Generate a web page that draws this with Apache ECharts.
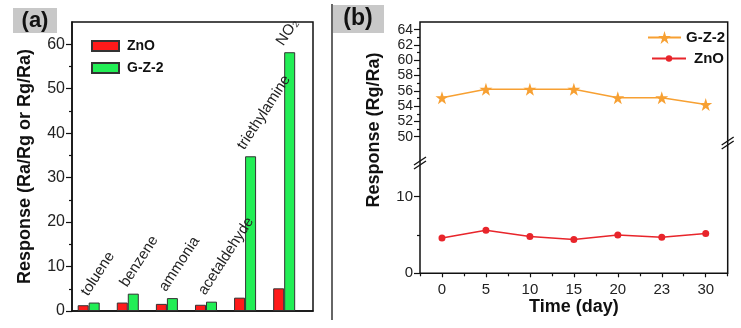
<!DOCTYPE html>
<html>
<head>
<meta charset="utf-8">
<script src="https://cdn.jsdelivr.net/npm/echarts@6/dist/echarts.min.js"></script>
<style>
  html, body { margin: 0; padding: 0; background: #fff; }
  #chart { width: 741px; height: 328px; }
</style>
</head>
<body>
<div id="chart"></div>
<script>
// (a) 各气体响应
var gases = ['toluene', 'benzene', 'ammonia', 'acetaldehyde', 'triethylamine', 'NO₂'];
var znoResp = [1.3, 1.9, 1.6, 1.4, 3.0, 5.1];
var gz2Resp = [1.9, 3.9, 2.9, 2.1, 34.8, 58.2];
var yTicksA = [0, 10, 20, 30, 40, 50, 60];
var yMinorA = [5, 15, 25, 35, 45, 55];

// (b) 稳定性
var days = ['0', '5', '10', '15', '20', '23', '30'];
var gz2Stab = [55.1, 56.2, 56.2, 56.2, 55.1, 55.1, 54.2];
var znoStab = [4.6, 5.6, 4.8, 4.4, 5.0, 4.7, 5.2];
var yTicksTop = [50, 52, 54, 56, 58, 60, 62, 64];
var yMinorTop = [51, 53, 55, 57, 59, 61, 63];
var yTicksLow = [0, 10];
var yMinorLow = [5];

var FONT = 'Liberation Sans, Arial, sans-serif';
var STAR = 'path://M50,0 L61.2,34.5 L97.6,34.5 L68.2,55.9 L79.4,90.5 L50,69.1 L20.6,90.5 L31.8,55.9 L2.4,34.5 L38.8,34.5 Z';

function tickAxis(grid, min, max, labels, ticks, len, fontSize, opts) {
  var ax = {
    type: 'value', gridIndex: grid, min: min, max: max, position: 'left',
    axisLine: { show: false, onZero: false },
    splitLine: { show: false },
    axisTick: { show: true, customValues: ticks, length: len, lineStyle: { color: '#111', width: 1.2 } },
    axisLabel: labels
      ? { show: true, customValues: labels, color: '#222', fontFamily: FONT, fontSize: fontSize, margin: 7 }
      : { show: false }
  };
  return Object.assign(ax, opts || {});
}

var chart = echarts.init(document.getElementById('chart'));
var option = {
  animation: false,
  backgroundColor: '#fff',
  grid: [
    { left: 72, top: 22, width: 241, height: 289, show: true, borderColor: '#111', borderWidth: 1.5, outerBoundsMode: 'none' },
    { left: 420, top: 22, width: 307.7, height: 130, outerBoundsMode: 'none' },
    { left: 420, top: 150.6, width: 307.7, height: 122.7, outerBoundsMode: 'none' },
    { left: 420, top: 22, width: 307.7, height: 251.3, show: true, borderColor: '#111', borderWidth: 1.5, outerBoundsMode: 'none' }
  ],
  xAxis: [
    { type: 'value', gridIndex: 0, min: -0.427, max: 5.737,
      axisLine: { show: true, onZero: false, lineStyle: { color: '#111', width: 1.5 } },
      axisTick: { show: false }, axisLabel: { show: false }, splitLine: { show: false } },
    { type: 'category', gridIndex: 1, data: days, show: false },
    { type: 'category', gridIndex: 2, data: days, position: 'bottom',
      axisLine: { show: false, onZero: false },
      axisTick: { show: true, alignWithLabel: true, length: 4, lineStyle: { color: '#111', width: 1.2 } },
      axisLabel: { color: '#222', fontFamily: FONT, fontSize: 15, margin: 9 },
      name: 'Time (day)', nameLocation: 'middle', nameGap: 23,
      nameTextStyle: { color: '#111', fontFamily: FONT, fontSize: 18, fontWeight: 'bold' } },
    { type: 'category', gridIndex: 2, data: days, position: 'bottom',
      axisLine: { show: false, onZero: false }, axisLabel: { show: false },
      axisTick: { show: true, alignWithLabel: false, length: 3, lineStyle: { color: '#111', width: 1.2 } } },
    { type: 'value', gridIndex: 3, show: false }
  ],
  yAxis: [
    tickAxis(0, 0, 65, yTicksA, yTicksA, 6, 16, {
      axisLine: { show: true, onZero: false, lineStyle: { color: '#111', width: 1.5 } },
      name: 'Response (Ra/Rg or Rg/Ra)', nameLocation: 'middle', nameGap: 38,
      nameTextStyle: { color: '#111', fontFamily: FONT, fontSize: 18, fontWeight: 'bold' }
    }),
    tickAxis(0, 0, 65, null, yMinorA, 3),
    tickAxis(1, 48, 65, yTicksTop, yTicksTop, 6, 14),
    tickAxis(1, 48, 65, null, yMinorTop, 3),
    tickAxis(2, 0, 16, yTicksLow, yTicksLow, 6, 15),
    tickAxis(2, 0, 16, null, yMinorLow, 3),
    { type: 'value', gridIndex: 3, show: false }
  ],
  legend: [
    { data: ['a:ZnO', 'a:G-Z-2'], orient: 'vertical', left: 86, top: 34,
      icon: 'rect', itemWidth: 27, itemHeight: 10, itemGap: 8, selectedMode: false,
      formatter: function (n) { return n.slice(2); },
      textStyle: { color: '#111', fontFamily: FONT, fontSize: 14, fontWeight: 'bold', padding: [0, 0, 0, 3] } },
    { data: ['b:G-Z-2'], orient: 'vertical', left: 642, top: 25,
      itemWidth: 33, itemHeight: 16, selectedMode: false,
      formatter: function (n) { return n.slice(2); },
      textStyle: { color: '#111', fontFamily: FONT, fontSize: 15, fontWeight: 'bold' } },
    { data: ['b:ZnO'], orient: 'vertical', left: 646, top: 46,
      itemWidth: 34, itemHeight: 8, selectedMode: false,
      formatter: function (n) { return n.slice(2); },
      textStyle: { color: '#111', fontFamily: FONT, fontSize: 15, fontWeight: 'bold', padding: [0, 0, 0, 3] } }
  ],
  graphic: [
    // 面板标签
    { type: 'rect', shape: { x: 13, y: 8, width: 44, height: 25 }, style: { fill: '#c8c8c8' } },
    { type: 'text', x: 35, y: 21, style: { text: '(a)', fill: '#111', font: 'bold 22px ' + FONT, align: 'center', verticalAlign: 'middle' } },
    { type: 'rect', shape: { x: 333, y: 5, width: 51, height: 28 }, style: { fill: '#c8c8c8' } },
    { type: 'text', x: 358, y: 19, style: { text: '(b)', fill: '#111', font: 'bold 23px ' + FONT, align: 'center', verticalAlign: 'middle' } },
    // 分隔线
    { type: 'line', shape: { x1: 332, y1: 4, x2: 332, y2: 320 }, style: { stroke: '#333', lineWidth: 1.5 } },
    // (b) y 轴标题
    { type: 'text', x: 374, y: 130, rotation: Math.PI / 2,
      style: { text: 'Response (Rg/Ra)', fill: '#111', font: 'bold 18px ' + FONT, align: 'center', verticalAlign: 'middle' } },
    // 断轴符号
    { type: 'line', shape: { x1: 414, y1: 165, x2: 426, y2: 157 }, style: { stroke: '#111', lineWidth: 1.3 } },
    { type: 'line', shape: { x1: 414, y1: 169, x2: 426, y2: 161 }, style: { stroke: '#111', lineWidth: 1.3 } },
    { type: 'line', shape: { x1: 721.7, y1: 145, x2: 733.7, y2: 137 }, style: { stroke: '#111', lineWidth: 1.3 } },
    { type: 'line', shape: { x1: 721.7, y1: 149, x2: 733.7, y2: 141 }, style: { stroke: '#111', lineWidth: 1.3 } }
  ],
  series: [
    { name: 'a:ZnO', type: 'bar', xAxisIndex: 0, yAxisIndex: 0,
      data: gases.map(function (g, i) { return [i, znoResp[i]]; }),
      barWidth: 11, barGap: '0%',
      itemStyle: { color: '#ff1a1a', borderColor: '#333', borderWidth: 1 } },
    { name: 'a:G-Z-2', type: 'bar', xAxisIndex: 0, yAxisIndex: 0,
      data: gases.map(function (g, i) { return [i, gz2Resp[i]]; }),
      barWidth: 11, barGap: '0%',
      itemStyle: { color: '#22ee55', borderColor: '#333', borderWidth: 1 },
      label: { show: true, position: [2, -4], rotate: 57, align: 'left', verticalAlign: 'bottom',
        color: '#222', fontFamily: FONT, fontSize: 15,
        formatter: function (p) { return gases[p.dataIndex]; } } },
    { name: 'b:G-Z-2', type: 'line', xAxisIndex: 1, yAxisIndex: 2, data: gz2Stab,
      symbol: STAR, symbolSize: 13,
      lineStyle: { color: '#f7a032', width: 1.5 }, itemStyle: { color: '#f7a032' } },
    { name: 'b:ZnO', type: 'line', xAxisIndex: 2, yAxisIndex: 4, data: znoStab,
      symbol: 'circle', symbolSize: 7,
      lineStyle: { color: '#e8252b', width: 1.5 }, itemStyle: { color: '#e8252b' } }
  ]
};
chart.setOption(option);
</script>
</body>
</html>
